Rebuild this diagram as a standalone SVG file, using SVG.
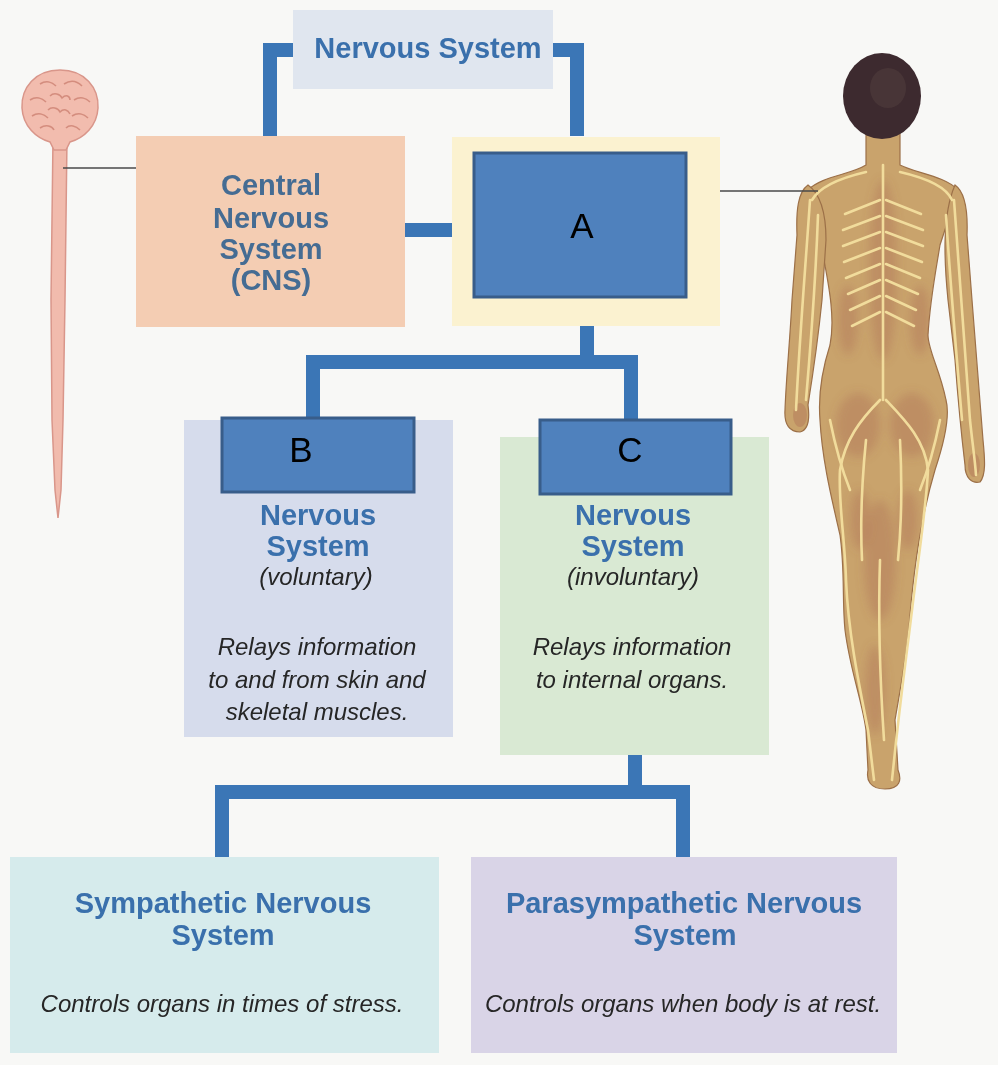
<svg xmlns="http://www.w3.org/2000/svg" width="998" height="1065" viewBox="0 0 998 1065">
<style>
.hdr{font-family:"Liberation Sans",Arial,sans-serif;font-weight:bold;font-size:29px;fill:#3a70ac;text-anchor:middle}
.cns{fill:#456c93}
.it{font-family:"Liberation Sans",Arial,sans-serif;font-style:italic;font-size:24px;fill:#262626;text-anchor:middle}
.lbl{font-family:"Liberation Sans",Arial,sans-serif;font-size:35px;fill:#000;text-anchor:middle}
.conn{fill:none;stroke:#3b76b6;stroke-width:14;stroke-linejoin:miter;stroke-linecap:butt}
.thin{fill:none;stroke:#4a4a4a;stroke-width:1.6}
.blue{fill:#4f81bd;stroke:#385d8a;stroke-width:3}
.nerve{fill:none;stroke:#f1dc9c;stroke-width:2.6;stroke-linecap:round}
.shade{fill:#a4604f;opacity:0.3}
.skin{fill:#c9a36c;stroke:#9c7048;stroke-width:1.2}
</style>
<defs>
  <filter id="soft" x="-50%" y="-50%" width="200%" height="200%">
    <feGaussianBlur stdDeviation="5"/>
  </filter>
  <clipPath id="bodyclip">
    <path d="M866 132 L866 165 C850 175 822 176 808 190 L822 250 C830 290 835 320 830 345 C822 370 818 395 820 420 C822 460 832 500 840 535 C845 570 842 600 845 630 C850 670 862 700 866 730 L868 770 C866 780 870 789 885 789 C900 789 902 780 898 770 L895 720 C900 690 908 650 910 615 C913 580 920 520 935 470 C945 440 950 415 946 400 C940 370 928 350 928 335 C930 300 936 270 940 245 L958 190 C945 176 915 173 900 165 L900 132 Z"/>
  </clipPath>
</defs>
<rect x="0" y="0" width="998" height="1065" fill="#f8f8f6"/>

<!-- brain and spinal cord illustration -->
<g id="cns-illustration">
  <path d="M53 138 L67 138 L65 300 L63 420 L61 490 L58 518 L55 490 L52 420 L51 300 Z" fill="#f1bbad" stroke="#d9968a" stroke-width="1.5"/>
  <path d="M60 70 C85 70 99 88 98 108 C97 126 84 138 70 142 L66 150 L54 150 L50 142 C36 138 23 126 22 108 C21 88 35 70 60 70 Z" fill="#f2bcae" stroke="#d9968a" stroke-width="1.5"/>
  <g fill="none" stroke="#d48d7e" stroke-width="1.6">
    <path d="M40 84 C46 80 52 82 56 86"/>
    <path d="M64 84 C70 80 76 80 82 86"/>
    <path d="M30 100 C36 96 42 98 46 102"/>
    <path d="M74 100 C80 96 86 98 90 102"/>
    <path d="M32 116 C38 112 44 114 48 118"/>
    <path d="M72 116 C78 112 84 114 88 118"/>
    <path d="M50 96 C54 92 60 94 62 98 C66 94 70 96 70 100"/>
    <path d="M48 110 C52 106 58 108 60 112 C64 108 68 110 70 114"/>
    <path d="M40 128 C46 124 52 126 54 130"/>
    <path d="M66 128 C70 124 76 126 80 130"/>
  </g>
  <line x1="63" y1="168" x2="136" y2="168" class="thin"/>
</g>

<!-- human figure illustration -->
<g id="pns-illustration">
  <path class="skin" d="M866 132 L866 165 C850 175 822 176 808 190 L822 250 C830 290 835 320 830 345 C822 370 818 395 820 420 C822 460 832 500 840 535 C845 570 842 600 845 630 C850 670 862 700 866 730 L868 770 C866 780 870 789 885 789 C900 789 902 780 898 770 L895 720 C900 690 908 650 910 615 C913 580 920 520 935 470 C945 440 950 415 946 400 C940 370 928 350 928 335 C930 300 936 270 940 245 L958 190 C945 176 915 173 900 165 L900 132 Z"/>
  <path class="skin" d="M808 185 C798 192 796 210 797 235 L792 300 C790 340 786 380 785 410 C784 425 790 432 800 432 C808 430 810 420 808 405 C812 380 818 340 822 300 L826 240 C826 215 822 195 808 185 Z"/>
  <path class="skin" d="M955 185 C965 192 968 210 967 235 L972 300 C975 340 980 400 983 440 C985 460 986 475 980 482 C972 484 965 478 965 465 C962 440 958 400 955 360 L948 300 C944 260 942 215 955 185 Z"/>
  <g clip-path="url(#bodyclip)">
    <g filter="url(#soft)">
      <ellipse cx="883" cy="270" rx="14" ry="90" class="shade"/>
      <ellipse cx="848" cy="320" rx="10" ry="35" class="shade"/>
      <ellipse cx="920" cy="320" rx="10" ry="35" class="shade"/>
      <ellipse cx="858" cy="425" rx="22" ry="32" class="shade"/>
      <ellipse cx="912" cy="425" rx="22" ry="32" class="shade"/>
      <ellipse cx="880" cy="560" rx="16" ry="60" class="shade"/>
      <ellipse cx="860" cy="520" rx="10" ry="30" class="shade"/>
      <ellipse cx="908" cy="520" rx="10" ry="30" class="shade"/>
      <ellipse cx="875" cy="690" rx="10" ry="45" class="shade"/>
    </g>
  </g>
  <ellipse cx="800" cy="415" rx="7" ry="12" class="shade"/>
  <ellipse cx="974" cy="465" rx="6" ry="12" class="shade"/>
  <g class="nerve">
    <path d="M883 165 L883 400"/>
    <path d="M880 200 L845 214"/><path d="M886 200 L921 214"/>
    <path d="M880 216 L843 230"/><path d="M886 216 L923 230"/>
    <path d="M880 232 L843 246"/><path d="M886 232 L923 246"/>
    <path d="M880 248 L844 262"/><path d="M886 248 L922 262"/>
    <path d="M880 264 L846 278"/><path d="M886 264 L920 278"/>
    <path d="M880 280 L848 294"/><path d="M886 280 L918 294"/>
    <path d="M880 296 L850 310"/><path d="M886 296 L916 310"/>
    <path d="M880 312 L852 326"/><path d="M886 312 L914 326"/>
    <path d="M866 172 C840 178 820 186 812 200"/>
    <path d="M900 172 C926 178 946 186 952 200"/>
    <path d="M810 200 C806 260 800 330 796 410"/>
    <path d="M818 215 C816 270 812 330 806 400"/>
    <path d="M954 200 C958 260 964 340 970 420 C972 440 975 460 976 475"/>
    <path d="M946 215 C950 280 956 350 962 420"/>
    <path d="M880 400 C860 420 845 440 840 470 C838 500 845 540 846 580 C848 630 858 680 868 730 L874 780"/>
    <path d="M886 400 C905 420 925 440 928 470 C926 510 918 560 912 610 C906 660 900 700 892 780"/>
    <path d="M866 440 C862 480 860 520 862 560"/>
    <path d="M900 440 C902 480 902 520 898 560"/>
    <path d="M880 560 C878 620 880 680 884 740"/>
    <path d="M830 420 C836 450 842 470 850 490"/>
    <path d="M940 420 C934 450 928 470 920 490"/>
  </g>
  <ellipse cx="882" cy="96" rx="39" ry="43" fill="#3d2a2f"/>
  <ellipse cx="888" cy="88" rx="18" ry="20" fill="#4d3a3a" opacity="0.7"/>
  <line x1="720" y1="191" x2="818" y2="191" class="thin"/>
</g>

<!-- connectors -->
<g id="connectors">
  <path class="conn" d="M293 50 L270 50 L270 136"/>
  <path class="conn" d="M553 50 L577 50 L577 136"/>
  <path class="conn" d="M405 230 L452 230" stroke-width="13"/>
  <path class="conn" d="M587 326 L587 362"/>
  <path class="conn" d="M313 418 L313 362 L631 362 L631 420"/>
  <path class="conn" d="M635 755 L635 792"/>
  <path class="conn" d="M222 857 L222 792 L683 792 L683 857"/>
</g>

<g id="node-nervous-system">
  <rect x="293" y="10" width="260" height="79" fill="#e0e6ef"/>
  <text class="hdr" x="428" y="58">Nervous System</text>
</g>

<g id="node-cns">
  <rect x="136" y="136" width="269" height="191" fill="#f4cdb3"/>
  <text class="hdr cns" x="271" y="195">Central</text>
  <text class="hdr cns" x="271" y="228">Nervous</text>
  <text class="hdr cns" x="271" y="259">System</text>
  <text class="hdr cns" x="271" y="290">(CNS)</text>
</g>

<g id="node-pns">
  <rect x="452" y="137" width="268" height="189" fill="#fbf2d0"/>
  <rect class="blue" x="474" y="153" width="212" height="144"/>
  <text class="lbl" x="582" y="238">A</text>
</g>

<g id="node-somatic">
  <rect x="184" y="420" width="269" height="317" fill="#d6dcec"/>
  <rect class="blue" x="222" y="418" width="192" height="74"/>
  <text class="lbl" x="301" y="462">B</text>
  <text class="hdr" x="318" y="525">Nervous</text>
  <text class="hdr" x="318" y="556">System</text>
  <text class="it" x="316" y="585">(voluntary)</text>
  <text class="it" x="317" y="655">Relays information</text>
  <text class="it" x="317" y="688">to and from skin and</text>
  <text class="it" x="317" y="720">skeletal muscles.</text>
</g>

<g id="node-autonomic">
  <rect x="500" y="437" width="269" height="318" fill="#d9e9d3"/>
  <rect class="blue" x="540" y="420" width="191" height="74"/>
  <text class="lbl" x="630" y="462">C</text>
  <text class="hdr" x="633" y="525">Nervous</text>
  <text class="hdr" x="633" y="556">System</text>
  <text class="it" x="633" y="585">(involuntary)</text>
  <text class="it" x="632" y="655">Relays information</text>
  <text class="it" x="632" y="688">to internal organs.</text>
</g>

<g id="node-sympathetic">
  <rect x="10" y="857" width="429" height="196" fill="#d6ebec"/>
  <text class="hdr" x="223" y="913">Sympathetic Nervous</text>
  <text class="hdr" x="223" y="945">System</text>
  <text class="it" x="222" y="1012">Controls organs in times of stress.</text>
</g>

<g id="node-parasympathetic">
  <rect x="471" y="857" width="426" height="196" fill="#d9d4e7"/>
  <text class="hdr" x="684" y="913">Parasympathetic Nervous</text>
  <text class="hdr" x="685" y="945">System</text>
  <text class="it" x="683" y="1012">Controls organs when body is at rest.</text>
</g>
</svg>
